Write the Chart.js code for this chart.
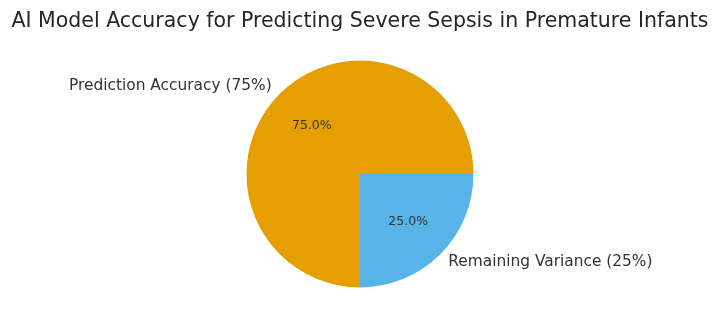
<!DOCTYPE html>
<html>
<head>
<meta charset="utf-8">
<script src="https://cdn.jsdelivr.net/npm/chart.js@4"></script>
<style>
  html, body { margin: 0; padding: 0; background: #fff; }
  #wrap { width: 720px; height: 326px; }
</style>
</head>
<body>
<div id="wrap"><canvas id="pieChart" width="720" height="326"></canvas></div>
<script>
// Chart data
const labels = ['Prediction Accuracy (75%)', 'Remaining Variance (25%)'];
const values = [75, 25];
const colors = ['#E69F00', '#56B4E9'];

// Outside labels + percentage texts, placed like matplotlib (1.1r and 0.6r)
const pieText = {
  id: 'pieText',
  afterDatasetsDraw(chart) {
    const c = chart.ctx;
    const arcs = chart.getDatasetMeta(0).data;
    const total = values.reduce((a, b) => a + b, 0);
    arcs.forEach((arc, i) => {
      const p = arc.getProps(['x', 'y', 'startAngle', 'endAngle', 'outerRadius'], true);
      const mid = (p.startAngle + p.endAngle) / 2;
      const cos = Math.cos(mid), sin = Math.sin(mid);
      c.save();
      c.fillStyle = '#333';
      c.textBaseline = 'middle';
      c.font = '15.4px "DejaVu Sans"';
      c.textAlign = cos < 0 ? 'right' : 'left';
      c.fillText(labels[i], p.x + cos * p.outerRadius * 1.1, p.y + sin * p.outerRadius * 1.1);
      c.font = '12.5px "DejaVu Sans"';
      c.textAlign = 'center';
      c.fillText((values[i] / total * 100).toFixed(1) + '%', p.x + cos * p.outerRadius * 0.6, p.y + sin * p.outerRadius * 0.6);
      c.restore();
    });
  }
};

new Chart(document.getElementById('pieChart'), {
  type: 'pie',
  data: {
    labels: labels,
    datasets: [{
      data: values,
      backgroundColor: colors,
      borderWidth: 0
    }]
  },
  options: {
    responsive: false,
    animation: false,
    rotation: 180,
    layout: { padding: { top: 0, bottom: 38.5 } },
    plugins: {
      legend: { display: false },
      tooltip: { enabled: false },
      title: {
        display: true,
        text: 'AI Model Accuracy for Predicting Severe Sepsis in Premature Infants',
        color: '#262626',
        font: { family: 'DejaVu Sans', size: 20.5, weight: 'normal' },
        padding: { top: 9.7, bottom: 26.2 }
      }
    }
  },
  plugins: [pieText]
});
</script>
</body>
</html>
